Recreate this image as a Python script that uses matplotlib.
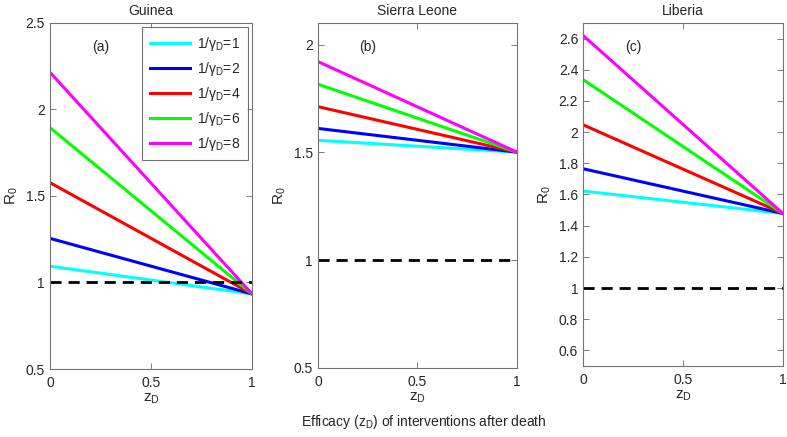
import numpy as np
import matplotlib.pyplot as plt

plt.rcParams['font.family'] = ['Liberation Sans', 'DejaVu Sans']
plt.rcParams['mathtext.fontset'] = 'custom'
plt.rcParams['mathtext.rm'] = 'Liberation Sans'
plt.rcParams['mathtext.it'] = 'Liberation Sans'

# z_D end points of each straight line
z_d = [0, 1]
inv_gamma = [1, 2, 4, 6, 8]
colors = ['cyan', 'blue', 'red', '#00ff00', 'magenta']

countries = ['Guinea', 'Sierra Leone', 'Liberia']
panel_tags = ['(a)', '(b)', '(c)']

# R0 at z_D = 0 and z_D = 1, one list per 1/gamma_D
r0_guinea = [[1.094, 0.934], [1.255, 0.934], [1.577, 0.934], [1.895, 0.934], [2.215, 0.934]]
r0_sierra = [[1.556, 1.501], [1.611, 1.501], [1.712, 1.501], [1.816, 1.501], [1.921, 1.501]]
r0_liberia = [[1.622, 1.478], [1.765, 1.478], [2.047, 1.478], [2.337, 1.478], [2.62, 1.478]]
r0_all = [r0_guinea, r0_sierra, r0_liberia]

ylims = [(0.5, 2.5), (0.5, 2.1), (0.5, 2.7)]
yticks = [[0.5, 1, 1.5, 2, 2.5], [0.5, 1, 1.5, 2], np.arange(0.6, 2.61, 0.2)]

positions = [[0.0635, 0.1556, 0.2567, 0.7918],
             [0.404, 0.1579, 0.2529, 0.7895],
             [0.7408, 0.1625, 0.2541, 0.785]]

txt = '#262626'
fig = plt.figure(figsize=(7.87, 4.37), dpi=100)

for i in range(3):
    ax = fig.add_axes(positions[i])
    for j, g in enumerate(inv_gamma):
        ax.plot(z_d, r0_all[i][j], color=colors[j], lw=2.2,
                label=r'1/$\gamma_\mathrm{D}$=%d' % g)
    ax.plot([0, 1], [1, 1], 'k--', lw=2, dashes=(4, 2.5))
    ax.set_xlim(0, 1)
    ax.set_ylim(*ylims[i])
    ax.set_xticks([0, 0.5, 1])
    ax.set_xticklabels(['0', '0.5', '1'])
    ax.set_yticks(yticks[i])
    ax.set_yticklabels(['%g' % round(v, 1) for v in yticks[i]])
    ax.tick_params(direction='in', top=True, right=True, labelsize=10,
                   colors=txt, length=4, width=0.6, color='0.4')
    ax.tick_params(axis='x', pad=5)
    for s in ax.spines.values():
        s.set_color('0.45')
        s.set_linewidth(0.8)
    ax.set_title(countries[i], fontsize=10, color=txt, pad=6)
    ax.set_xlabel(r'z$_\mathrm{D}$', fontsize=11, color=txt, labelpad=1)
    ax.set_ylabel(r'R$_0$', fontsize=11, color=txt, labelpad=4)
    ax.text(0.25, 0.93, panel_tags[i], transform=ax.transAxes, fontsize=10,
            color=txt, ha='center', va='center')
    if i == 0:
        leg = ax.legend(loc='upper right', fontsize=10, handlelength=2.9,
                        labelspacing=0.5, borderaxespad=0.3, fancybox=False,
                        handletextpad=0.5, borderpad=0.55)
        leg.get_frame().set_edgecolor('0.3')
        leg.get_frame().set_linewidth(0.8)
        for t in leg.get_texts():
            t.set_color(txt)

fig.text(0.538, 0.035, r'Efficacy (z$_\mathrm{D}$) of interventions after death',
         ha='center', va='center', fontsize=10, color=txt)

fig.savefig('out.png', dpi=100)
